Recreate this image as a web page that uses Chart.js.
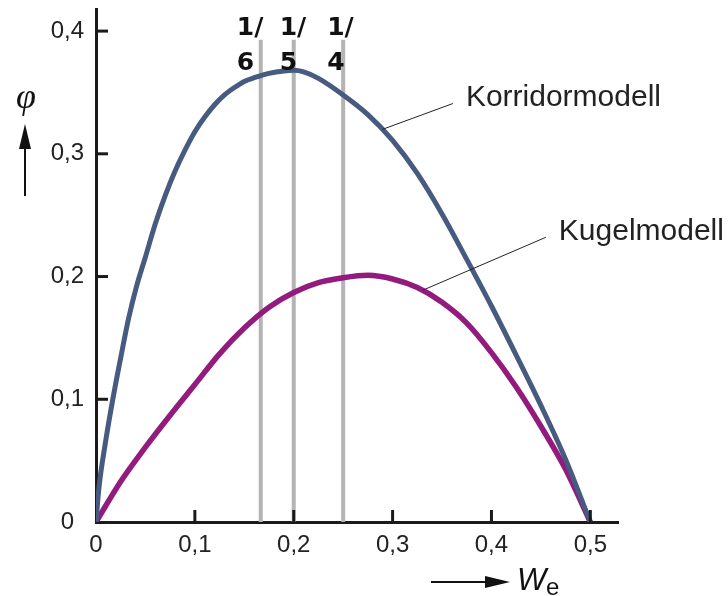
<!DOCTYPE html>
<html>
<head>
<meta charset="utf-8">
<script src="https://cdn.jsdelivr.net/npm/chart.js@4.4.1/dist/chart.umd.min.js"></script>
<style>
  html, body { margin: 0; padding: 0; background: #fff; }
  #wrap { width: 728px; height: 596px; }
</style>
</head>
<body>
<div id="wrap"><canvas id="myChart" width="728" height="596"></canvas></div>
<script>
// Korridormodell curve
const corridorX = [0, 0.003, 0.009, 0.017, 0.026, 0.033, 0.041, 0.05, 0.06, 0.07, 0.08, 0.09, 0.1, 0.11, 0.12, 0.13, 0.14, 0.15, 0.16, 0.175, 0.19, 0.2, 0.21, 0.225, 0.25, 0.275, 0.3, 0.325, 0.35, 0.375, 0.4, 0.425, 0.45, 0.475, 0.5];
const corridorY = [0, 0.028, 0.062, 0.100, 0.138, 0.166, 0.192, 0.216, 0.243, 0.266, 0.286, 0.303, 0.318, 0.330, 0.340, 0.348, 0.354, 0.359, 0.362, 0.3655, 0.3675, 0.368, 0.3668, 0.3615, 0.348, 0.332, 0.311, 0.284, 0.251, 0.214, 0.176, 0.136, 0.095, 0.051, 0];

// Kugelmodell curve
const sphereX = [0, 0.025, 0.05, 0.075, 0.1, 0.125, 0.15, 0.175, 0.2, 0.225, 0.25, 0.275, 0.3, 0.325, 0.35, 0.375, 0.4, 0.425, 0.45, 0.475, 0.5];
const sphereY = [0, 0.033, 0.061, 0.087, 0.112, 0.137, 0.158, 0.175, 0.187, 0.195, 0.199, 0.201, 0.198, 0.191, 0.179, 0.162, 0.138, 0.110, 0.078, 0.043, 0];

// vertical guides at W_e = 1/6, 1/5, 1/4
const guideX = [1 / 6, 1 / 5, 1 / 4];
const guideTop = 0.393;
const guideNum = ['1/', '1/', '1/'];
const guideDen = ['6', '5', '4'];

const xTicks = [0, 0.1, 0.2, 0.3, 0.4, 0.5];
const yTicks = [0, 0.1, 0.2, 0.3, 0.4];
const xMax = 0.528;
const yMax = 0.418;

const seriesNames = ['Korridormodell', 'Kugelmodell'];
// leader line: point on curve -> label anchor (data units)
const leaderFrom = [[0.290, 0.320], [0.331, 0.189]];
const leaderTo = [[0.361, 0.341], [0.455, 0.232]];

const toPoints = (xs, ys) => xs.map((x, i) => ({ x: x, y: ys[i] }));
const fmt = v => v === 0 ? '0' : v.toFixed(1).replace('.', ',');

const datasets = [
    {
        label: seriesNames[0],
        data: toPoints(corridorX, corridorY),
        borderColor: '#475a7f',
        borderWidth: 5,
        cubicInterpolationMode: 'monotone'
    },
    {
        label: seriesNames[1],
        data: toPoints(sphereX, sphereY),
        borderColor: '#921b7d',
        borderWidth: 5.5,
        cubicInterpolationMode: 'monotone'
    }
];
guideX.forEach(gx => {
    datasets.push({
        label: 'guide',
        data: [{ x: gx, y: 0 }, { x: gx, y: guideTop }],
        borderColor: '#b4b4b4',
        borderWidth: 4
    });
});

// drop the extra room Chart.js reserves for the outer tick labels
const noEdgePadding = scale => {
    scale.paddingTop = 0;
    scale.paddingBottom = 0;
    scale.paddingLeft = 0;
    scale.paddingRight = 0;
};

const decorations = {
    id: 'decorations',
    afterDraw(chart) {
        const ctx = chart.ctx;
        const xs = chart.scales.x;
        const ys = chart.scales.y;
        const area = chart.chartArea;
        ctx.save();

        // inward tick marks
        ctx.strokeStyle = '#1c1a18';
        ctx.lineWidth = 3;
        yTicks.slice(1).forEach(v => {
            const py = ys.getPixelForValue(v);
            ctx.beginPath();
            ctx.moveTo(area.left, py);
            ctx.lineTo(area.left + 12, py);
            ctx.stroke();
        });
        xTicks.slice(1).forEach(v => {
            const px = xs.getPixelForValue(v);
            ctx.beginPath();
            ctx.moveTo(px, area.bottom);
            ctx.lineTo(px, area.bottom - 12);
            ctx.stroke();
        });

        // fraction labels above the guides
        const offsets = [-24, -14, -16];
        ctx.fillStyle = '#111';
        ctx.font = 'bold 25px "DejaVu Sans"';
        ctx.textAlign = 'left';
        ctx.textBaseline = 'alphabetic';
        guideX.forEach((gx, i) => {
            const px = xs.getPixelForValue(gx) + offsets[i];
            ctx.fillText(guideNum[i], px, 35);
            ctx.fillText(guideDen[i], px, 70);
        });

        // series labels with leader lines
        ctx.strokeStyle = '#222';
        ctx.lineWidth = 1;
        ctx.font = '30px "Liberation Sans"';
        ctx.fillStyle = '#222';
        ctx.textBaseline = 'middle';
        seriesNames.forEach((name, i) => {
            const x0 = xs.getPixelForValue(leaderFrom[i][0]);
            const y0 = ys.getPixelForValue(leaderFrom[i][1]);
            const x1 = xs.getPixelForValue(leaderTo[i][0]);
            const y1 = ys.getPixelForValue(leaderTo[i][1]);
            ctx.beginPath();
            ctx.moveTo(x0, y0);
            ctx.lineTo(x1, y1);
            ctx.stroke();
            ctx.fillText(name, x1 + 13, y1 - 6);
        });

        // axis titles with arrows
        ctx.fillStyle = '#111';
        ctx.strokeStyle = '#111';
        ctx.lineWidth = 2;
        ctx.font = 'italic 36px "Liberation Serif"';
        ctx.textAlign = 'center';
        ctx.textBaseline = 'alphabetic';
        ctx.fillText('\u03C6', 26, 108);
        ctx.beginPath();
        ctx.moveTo(25, 196);
        ctx.lineTo(25, 145);
        ctx.stroke();
        ctx.beginPath();
        ctx.moveTo(25, 124);
        ctx.lineTo(31, 149);
        ctx.lineTo(19, 149);
        ctx.closePath();
        ctx.fill();

        ctx.beginPath();
        ctx.moveTo(431, 582);
        ctx.lineTo(490, 582);
        ctx.stroke();
        ctx.beginPath();
        ctx.moveTo(510, 582);
        ctx.lineTo(485, 576);
        ctx.lineTo(485, 588);
        ctx.closePath();
        ctx.fill();

        ctx.textAlign = 'left';
        ctx.font = 'italic 31px "Liberation Sans"';
        ctx.fillText('W', 517, 590);
        ctx.font = '24px "Liberation Sans"';
        ctx.fillText('e', 546, 595);

        ctx.restore();
    }
};

const ctx = document.getElementById('myChart').getContext('2d');
const myChart = new Chart(ctx, {
    type: 'line',
    data: { datasets: datasets },
    options: {
        responsive: false,
        animation: false,
        layout: { padding: { left: 0, top: 9, right: 110, bottom: 0 } },
        elements: { point: { radius: 0 }, line: { fill: false } },
        plugins: {
            legend: { display: false },
            tooltip: { enabled: false }
        },
        scales: {
            x: {
                type: 'linear',
                min: 0,
                max: xMax,
                grid: { display: false, drawTicks: false },
                border: { display: true, color: '#1c1a18', width: 3 },
                afterBuildTicks: scale => { scale.ticks = xTicks.map(v => ({ value: v })); },
                afterFit: scale => { scale.height = 74; noEdgePadding(scale); },
                ticks: {
                    padding: 9,
                    color: '#222',
                    font: { family: '"Liberation Sans"', size: 24 },
                    maxRotation: 0,
                    callback: v => fmt(v)
                }
            },
            y: {
                type: 'linear',
                min: 0,
                max: yMax,
                grid: { display: false, drawTicks: false },
                border: { display: true, color: '#1c1a18', width: 3 },
                afterBuildTicks: scale => { scale.ticks = yTicks.map(v => ({ value: v })); },
                afterFit: scale => { scale.width = 96; noEdgePadding(scale); },
                ticks: {
                    padding: 12,
                    crossAlign: 'center',
                    color: '#222',
                    font: { family: '"Liberation Sans"', size: 24 },
                    callback: v => fmt(v)
                }
            }
        }
    },
    plugins: [decorations]
});
</script>
</body>
</html>
